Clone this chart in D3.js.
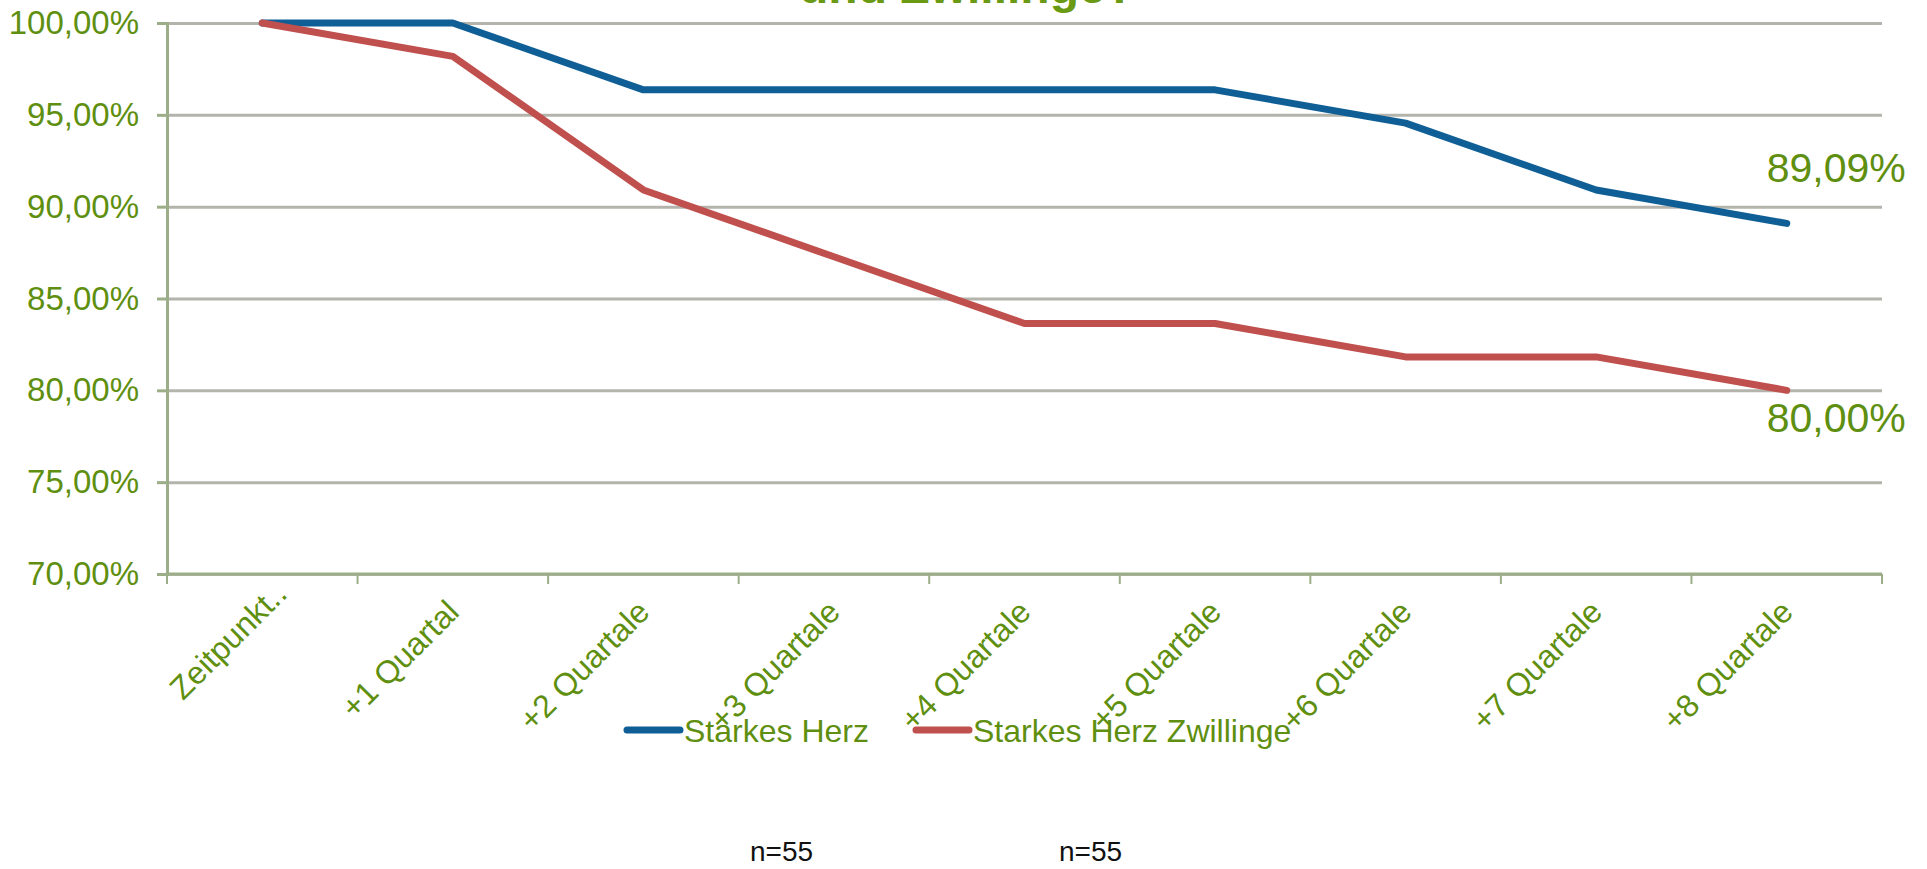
<!DOCTYPE html>
<html>
<head>
<meta charset="utf-8">
<script src="https://cdn.jsdelivr.net/npm/d3@7"></script>
<style>
  body { margin: 0; background: #fff; }
  text { font-family: "Liberation Sans", Arial, sans-serif; }
</style>
</head>
<body>
<svg id="chart" width="1927" height="869"></svg>
<script>
// categories along the x axis
const categories = ["Zeitpunkt..", "+1 Quartal", "+2 Quartale", "+3 Quartale", "+4 Quartale",
  "+5 Quartale", "+6 Quartale", "+7 Quartale", "+8 Quartale"];
// series values in percent
const seriesNames = ["Starkes Herz", "Starkes Herz Zwillinge"];
const starkesHerz = [100, 100, 96.36, 96.36, 96.36, 96.36, 94.55, 90.91, 89.09];
const zwillinge = [100, 98.18, 90.91, 87.27, 83.64, 83.64, 81.82, 81.82, 80.00];
const yTicks = [70, 75, 80, 85, 90, 95, 100];
const sampleSizes = ["n=55", "n=55"];
const titleText = "und Zwillinge?";

const green = "#5f8f10";
const colors = ["#0f5f96", "#c0504d"];

const svg = d3.select("#chart");

// plot area
const plotLeft = 167, plotRight = 1882, plotTop = 23, plotBottom = 574;

const x = d3.scaleBand().domain(categories).range([plotLeft, plotRight]).paddingInner(0).paddingOuter(0);
const y = d3.scaleLinear().domain([70, 100]).range([plotBottom, plotTop]);
const fmt = d => d.toFixed(2).replace(".", ",") + "%";

// title (mostly cut off at top of the picture)
svg.append("text")
  .attr("x", 1135).attr("y", 3)
  .attr("text-anchor", "end")
  .attr("font-size", 48).attr("font-weight", "bold")
  .attr("fill", "#6a9a14")
  .text(titleText);

// gridlines
svg.append("g")
  .attr("transform", `translate(${plotLeft},0)`)
  .call(d3.axisLeft(y).tickValues(yTicks).tickSize(-(plotRight - plotLeft)).tickFormat(""))
  .call(g => g.select(".domain").remove())
  .call(g => g.selectAll("line").attr("stroke", "#b4b4ac").attr("stroke-width", 3));

// y axis
svg.append("g")
  .attr("transform", `translate(${plotLeft},0)`)
  .call(d3.axisLeft(y).tickValues(yTicks).tickSize(10).tickPadding(18).tickFormat(fmt))
  .call(g => g.select(".domain").attr("stroke", "#9cae88").attr("stroke-width", 3))
  .call(g => g.selectAll(".tick line").attr("stroke", "#9cae88").attr("stroke-width", 3))
  .call(g => g.selectAll("text")
    .attr("fill", green).attr("font-size", 33)
    .attr("font-family", "'Liberation Sans', Arial, sans-serif"));

// x axis line and ticks at band boundaries
const xg = svg.append("g");
xg.append("line")
  .attr("x1", plotLeft).attr("x2", plotRight).attr("y1", plotBottom).attr("y2", plotBottom)
  .attr("stroke", "#9cae88").attr("stroke-width", 3);
const bounds = categories.map(c => x(c)).concat([x(categories[categories.length - 1]) + x.bandwidth()]);
xg.selectAll(".xt").data(bounds).enter().append("line")
  .attr("x1", d => d).attr("x2", d => d)
  .attr("y1", plotBottom).attr("y2", plotBottom + 10)
  .attr("stroke", "#9cae88").attr("stroke-width", 2);

// x labels rotated (the truncated first label sits a bit further along its baseline)
xg.selectAll(".xl").data(categories).enter().append("text")
  .attr("transform", d => `translate(${x(d) + x.bandwidth() / 2 + 8},${plotBottom + 40}) rotate(-45)`)
  .attr("dx", (d, i) => i === 0 ? 26 : 0)
  .attr("text-anchor", "end")
  .attr("font-size", 32)
  .attr("fill", green)
  .text(d => d);

// lines
const cx = i => x(categories[i]) + x.bandwidth() / 2;
const line = d3.line().x((d, i) => cx(i)).y(d => y(d));
[starkesHerz, zwillinge].forEach((vals, k) => {
  svg.append("path")
    .datum(vals)
    .attr("d", line)
    .attr("fill", "none")
    .attr("stroke", colors[k])
    .attr("stroke-width", 7)
    .attr("stroke-linejoin", "round")
    .attr("stroke-linecap", "round");
});

// end value labels
const last = categories.length - 1;
svg.append("text")
  .attr("x", cx(last) - 20).attr("y", y(starkesHerz[last]) - 41)
  .attr("font-size", 41).attr("fill", green)
  .text(fmt(starkesHerz[last]));
svg.append("text")
  .attr("x", cx(last) - 20).attr("y", y(zwillinge[last]) + 42)
  .attr("font-size", 41).attr("fill", green)
  .text(fmt(zwillinge[last]));

// legend
const legendX = [627, 916];
seriesNames.forEach((name, k) => {
  svg.append("line")
    .attr("x1", legendX[k]).attr("x2", legendX[k] + 53)
    .attr("y1", 730).attr("y2", 730)
    .attr("stroke", colors[k]).attr("stroke-width", 7)
    .attr("stroke-linecap", "round");
  svg.append("text")
    .attr("x", legendX[k] + 57).attr("y", 742)
    .attr("font-size", 32).attr("fill", green)
    .text(name);
});

// sample sizes
const nX = [750, 1059];
sampleSizes.forEach((s, k) => {
  svg.append("text")
    .attr("x", nX[k]).attr("y", 861)
    .attr("font-size", 28).attr("fill", "#111")
    .text(s);
});
</script>
</body>
</html>
